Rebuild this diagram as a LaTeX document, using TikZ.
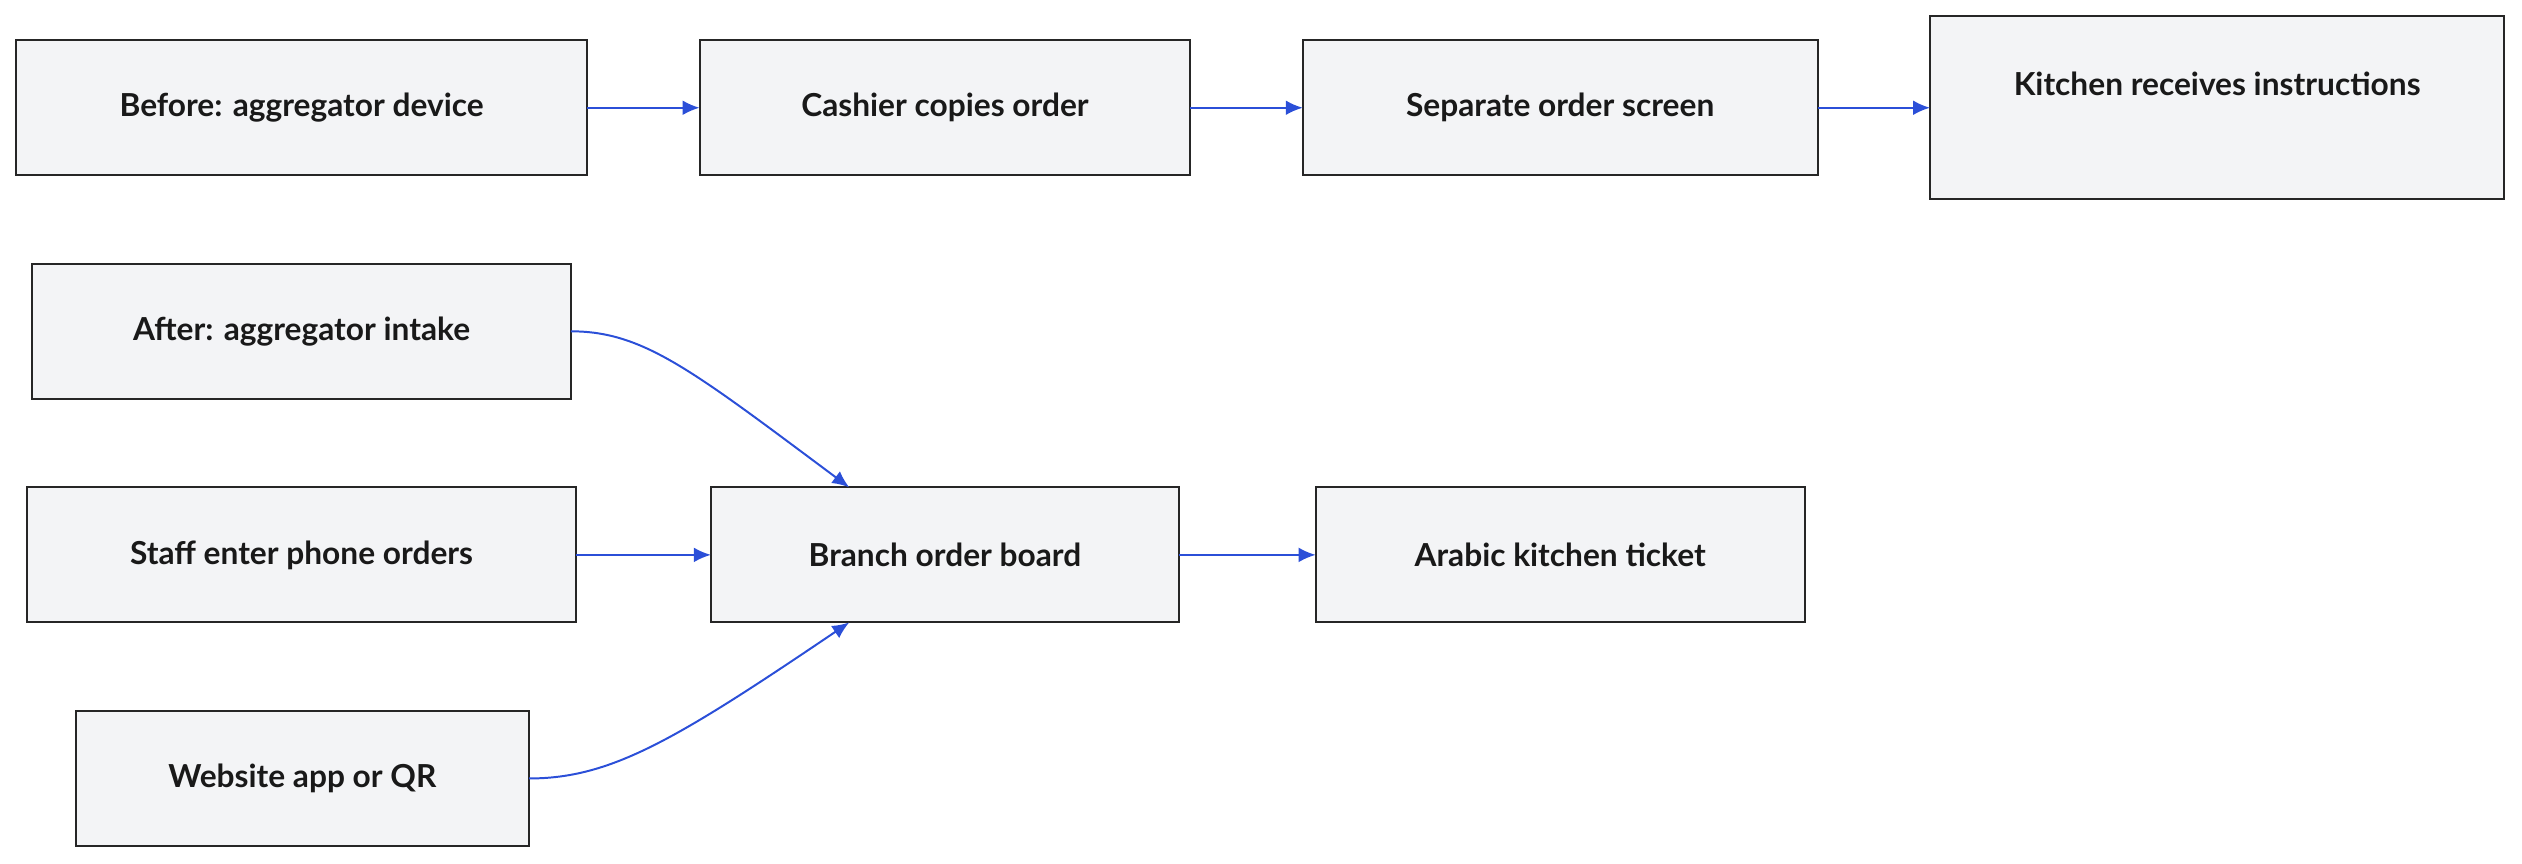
\documentclass[tikz,border=0pt]{standalone}
\usepackage{fontspec}
\setmainfont{Lato}
\usetikzlibrary{arrows.meta}
\definecolor{boxfill}{HTML}{F3F4F6}
\definecolor{arr}{HTML}{2B4FD8}
\begin{document}
\begin{tikzpicture}[x=0.01cm,y=-0.01cm,
  box/.style={draw=black!85,fill=boxfill,line width=0.35pt},
  lbl/.style={font=\fontsize{5.6}{6.5}\selectfont\bfseries,text=black!90},
  conn/.style={draw=arr,line width=0.35pt,-{Latex[length=3pt,width=2.6pt]}}]
\useasboundingbox (0,0) rectangle (1568,537);
\draw[box] (10,25) rectangle (365,109); \node[lbl] (a) at (187.5,67) {Before: aggregator device};
\coordinate (ar) at (365,67);
\draw[box] (435,25) rectangle (740,109); \node[lbl] (b) at (587.5,67) {Cashier copies order};
\coordinate (bl) at (435,67); \coordinate (br) at (740,67);
\draw[box] (810,25) rectangle (1130,109); \node[lbl] (c) at (970,67) {Separate order screen};
\coordinate (cl) at (810,67); \coordinate (cr) at (1130,67);
\draw[box] (1200,10) rectangle (1557,124); \node[lbl] (d) at (1378.5,52) {Kitchen receives instructions};
\coordinate (dl) at (1200,67);
\draw[box] (20,164) rectangle (355,248); \node[lbl] (e) at (187.5,206) {After: aggregator intake};
\coordinate (er) at (355,206);
\draw[box] (17,303) rectangle (358,387); \node[lbl] (f) at (187.5,345) {Staff enter phone orders};
\coordinate (fr) at (358,345);
\draw[box] (442,303) rectangle (733,387); \node[lbl] (g) at (587.5,345) {Branch order board};
\coordinate (gl) at (442,345); \coordinate (gr) at (733,345);
\coordinate (gt) at (528,303); \coordinate (gb) at (528,387);
\draw[box] (818,303) rectangle (1122,387); \node[lbl] (h) at (970,345) {Arabic kitchen ticket};
\coordinate (hl) at (818,345);
\draw[box] (47,442) rectangle (329,526); \node[lbl] (i) at (188,484) {Website app or QR};
\coordinate (ir) at (329,484);
\draw[conn] (ar) -- (bl);
\draw[conn] (br) -- (cl);
\draw[conn] (cr) -- (dl);
\draw[conn] (fr) -- (gl);
\draw[conn] (gr) -- (hl);
\draw[conn] (er) .. controls (400,206) and (430,230) .. (gt);
\draw[conn] (ir) .. controls (380,484) and (420,460) .. (gb);
\end{tikzpicture}
\end{document}
